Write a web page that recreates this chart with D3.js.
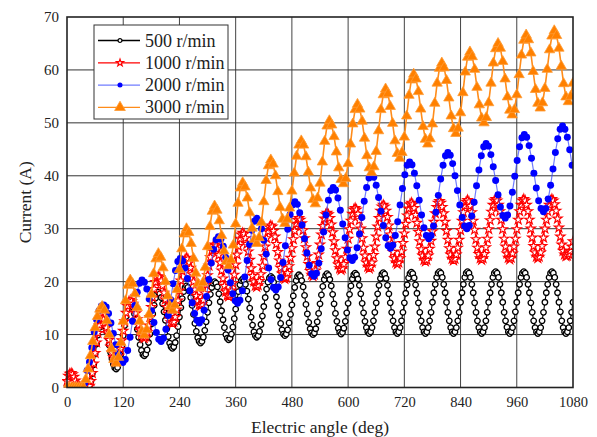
<!DOCTYPE html>
<html>
<head>
<meta charset="utf-8">
<script src="https://cdn.jsdelivr.net/npm/d3@7"></script>
<style>
  body { margin: 0; background: #fff; }
  text { font-family: "Liberation Serif", "Times New Roman", serif; fill: #222; }
</style>
</head>
<body>
<div id="chart"></div>
<script>
// axis ticks
const xTicks = [0, 120, 240, 360, 480, 600, 720, 840, 960, 1080];
const yTicks = [0, 10, 20, 30, 40, 50, 60, 70];

const seriesNames = ["500 r/min", "1000 r/min", "2000 r/min", "3000 r/min"];

// sampling of the electric angle (deg) for each curve
const angleStart500 = 0, angleStep500 = 3;
const angleStart1000 = 0, angleStep1000 = 3;
const angleStart2000 = 2, angleStep2000 = 5.1;
const angleStart3000 = 0, angleStep3000 = 5;

// current (A)
const current500 = [
  0, 0, 0, 0, 0, 0, 0, 0, 0, 0, 0, 0, 0, 0, 0, 0,
  0.3, 1.2, 2.6, 4.3, 6.3, 8.2, 9.9, 11.3, 12.2, 12.5,
  12.3, 11.6, 10.6, 9.4, 8.0, 6.6, 5.4, 4.4, 3.7, 3.5,
  3.8, 4.7, 6.1, 7.8, 9.8, 11.7, 13.4, 14.8, 15.7, 16.0,
  15.8, 15.1, 13.9, 12.6, 11.0, 9.5, 8.1, 7.0, 6.2, 6.0,
  6.3, 7.1, 8.5, 10.1, 12.0, 13.9, 15.5, 16.9, 17.7, 18.0,
  17.7, 17.0, 15.8, 14.3, 12.7, 11.1, 9.6, 8.4, 7.7, 7.4,
  7.7, 8.5, 9.8, 11.5, 13.3, 15.1, 16.8, 18.1, 18.9, 19.2,
  18.9, 18.2, 17.0, 15.5, 13.8, 12.1, 10.6, 9.4, 8.7, 8.4,
  8.7, 9.5, 10.8, 12.4, 14.2, 16.0, 17.6, 18.9, 19.7, 20.0,
  19.7, 19.0, 17.7, 16.2, 14.5, 12.8, 11.3, 10.0, 9.3, 9.0,
  9.3, 10.1, 11.4, 13.0, 14.8, 16.5, 18.1, 19.4, 20.2, 20.5,
  20.2, 19.5, 18.2, 16.7, 15.0, 13.3, 11.8, 10.5, 9.8, 9.5,
  9.8, 10.6, 11.9, 13.5, 15.3, 17.0, 18.6, 19.9, 20.7, 21.0,
  20.7, 19.9, 18.7, 17.1, 15.4, 13.7, 12.1, 10.9, 10.1, 9.8,
  10.1, 10.9, 12.2, 13.8, 15.6, 17.3, 18.9, 20.2, 21.0, 21.3,
  21.0, 20.2, 19.0, 17.4, 15.7, 13.9, 12.3, 11.1, 10.3, 10.0,
  10.3, 11.1, 12.4, 14.0, 15.8, 17.5, 19.1, 20.4, 21.2, 21.5,
  21.2, 20.4, 19.2, 17.6, 15.8, 14.0, 12.5, 11.2, 10.4, 10.1,
  10.4, 11.2, 12.5, 14.1, 15.9, 17.6, 19.2, 20.5, 21.3, 21.6,
  21.3, 20.5, 19.3, 17.7, 15.9, 14.1, 12.5, 11.3, 10.5, 10.2,
  10.5, 11.3, 12.6, 14.2, 16.0, 17.7, 19.3, 20.6, 21.4, 21.7,
  21.4, 20.6, 19.3, 17.7, 16.0, 14.2, 12.6, 11.3, 10.5, 10.2,
  10.5, 11.3, 12.6, 14.2, 16.0, 17.8, 19.4, 20.7, 21.5, 21.8,
  21.5, 20.7, 19.4, 17.8, 16.0, 14.2, 12.6, 11.3, 10.5, 10.2,
  10.5, 11.3, 12.6, 14.2, 16.1, 17.9, 19.5, 20.8, 21.6, 21.9,
  21.6, 20.8, 19.5, 17.9, 16.1, 14.2, 12.6, 11.3, 10.5, 10.2,
  10.5, 11.3, 12.6, 14.2, 16.1, 17.9, 19.5, 20.8, 21.6, 21.9,
  21.6, 20.8, 19.5, 17.9, 16.0, 14.2, 12.6, 11.3, 10.5, 10.2,
  10.5, 11.3, 12.6, 14.2, 16.1, 17.9, 19.5, 20.8, 21.6, 21.9,
  21.6, 20.8, 19.5, 17.9, 16.1, 14.2, 12.6, 11.4, 10.5, 10.2,
  10.5, 11.3, 12.6, 14.3, 16.1, 17.9, 19.5, 20.8, 21.6, 21.9,
  21.6, 20.8, 19.5, 17.9, 16.0, 14.2, 12.6, 11.3, 10.5, 10.2,
  10.5, 11.3, 12.6, 14.2, 16.1, 17.9, 19.5, 20.8, 21.6, 21.9,
  21.6, 20.8, 19.5, 17.9, 16.1, 14.3, 12.6, 11.3, 10.5, 10.2,
  10.5, 11.3, 12.6, 14.2, 16.1
];

const current1000 = [
  1.2, 2.2, 2.6, 2.7, 2.5, 2.0, 1.3, 0.7, 0.3, 0.1,
  0, 0, 0, 0, 0, 0,
  0.3, 1.2, 2.7, 4.5, 6.5, 8.5, 10.3, 11.8, 12.7, 13.0,
  12.8, 12.2, 11.3, 10.2, 9.0, 7.7, 6.6, 5.7, 5.1, 4.9,
  5.2, 6.0, 7.3, 8.9, 10.7, 12.5, 14.1, 15.4, 16.2, 16.5,
  16.3, 15.8, 15.0, 14.0, 12.9, 11.8, 10.8, 10.0, 9.5, 9.3,
  9.6, 10.4, 11.7, 13.3, 15.2, 17.0, 18.6, 19.9, 20.7, 21.0,
  20.8, 20.2, 19.2, 17.9, 16.6, 15.2, 13.9, 13.0, 12.3, 12.1,
  12.4, 13.3, 14.7, 16.4, 18.3, 20.2, 22.0, 23.3, 24.2, 24.5,
  24.3, 23.6, 22.6, 21.4, 20.0, 18.5, 17.3, 16.3, 15.6, 15.4,
  15.7, 16.5, 17.8, 19.4, 21.2, 23.0, 24.6, 25.9, 26.7, 27.0,
  26.8, 26.1, 25.0, 23.6, 22.1, 20.6, 19.2, 18.1, 17.4, 17.2,
  17.5, 18.3, 19.7, 21.3, 23.2, 25.1, 26.7, 28.1, 28.9, 29.2,
  29.0, 28.2, 27.1, 25.7, 24.1, 22.5, 21.1, 20.0, 19.2, 19.0,
  19.3, 20.1, 21.4, 23.0, 24.8, 26.6, 28.2, 29.5, 30.3, 30.6,
  30.4, 29.6, 28.5, 27.1, 25.6, 24.0, 22.6, 21.5, 20.7, 20.5,
  20.8, 21.6, 22.9, 24.5, 26.3, 28.0, 29.6, 30.9, 31.7, 32.0,
  31.7, 31.0, 29.7, 28.2, 26.5, 24.8, 23.3, 22.0, 21.3, 21.0,
  21.3, 22.1, 23.5, 25.1, 27.0, 28.9, 30.5, 31.9, 32.7, 33.0,
  32.7, 32.0, 30.8, 29.3, 27.6, 25.9, 24.4, 23.2, 22.5, 22.2,
  22.5, 23.3, 24.6, 26.2, 28.1, 29.9, 31.5, 32.8, 33.6, 33.9,
  33.6, 32.8, 31.6, 30.0, 28.2, 26.4, 24.9, 23.6, 22.8, 22.5,
  22.8, 23.6, 25.0, 26.6, 28.5, 30.4, 32.0, 33.4, 34.2, 34.5,
  34.2, 33.4, 32.2, 30.6, 28.9, 27.2, 25.6, 24.4, 23.6, 23.3,
  23.6, 24.4, 25.7, 27.3, 29.1, 30.9, 32.5, 33.8, 34.6, 34.9,
  34.6, 33.9, 32.6, 31.1, 29.4, 27.6, 26.1, 24.9, 24.1, 23.8,
  24.1, 24.9, 26.2, 27.7, 29.5, 31.3, 32.9, 34.1, 34.9, 35.2,
  34.9, 34.1, 32.9, 31.3, 29.6, 27.9, 26.3, 25.1, 24.3, 24.0,
  24.3, 25.1, 26.4, 27.9, 29.7, 31.5, 33.1, 34.3, 35.1, 35.4,
  35.1, 34.3, 33.1, 31.5, 29.8, 28.0, 26.4, 25.2, 24.4, 24.1,
  24.4, 25.2, 26.5, 28.1, 29.9, 31.6, 33.2, 34.5, 35.3, 35.6,
  35.3, 34.5, 33.3, 31.7, 29.9, 28.1, 26.6, 25.3, 24.5, 24.2,
  24.5, 25.3, 26.6, 28.1, 29.9, 31.7, 33.3, 34.5, 35.3, 35.6,
  35.3, 34.5, 33.3, 31.7, 30.0, 28.3, 26.7, 25.5, 24.7, 24.4,
  24.7, 25.5, 26.7, 28.3, 30.0, 31.7, 33.3, 34.5, 35.3, 35.6,
  35.3, 34.6, 33.4, 31.9, 30.2, 28.5, 27.0, 25.8, 25.1, 24.8,
  24.9, 25.2, 25.8, 26.6, 27.6
];

const current2000 = [
  0, 0, 0, 0, 0, 0, 0,
  0.8, 3.2, 4.8, 7.5, 10.5, 12.8, 14.5, 15.4, 15.6,
  15.2, 14.0, 12.2, 10.2, 8.1, 6.3, 5.1, 4.7,
  5.3, 7.0, 9.5, 12.5, 15.5, 18.0, 19.7, 20.3,
  19.9, 18.6, 16.7, 14.5, 12.3, 10.4, 9.1, 8.7,
  9.3, 11.0, 13.6, 16.6, 19.6, 22.1, 23.8, 24.4,
  23.9, 22.6, 20.6, 18.3, 16.0, 14.0, 12.7, 12.2,
  12.8, 14.6, 17.2, 20.4, 23.5, 26.1, 27.9, 28.5,
  28.0, 26.7, 24.6, 22.2, 19.8, 17.7, 16.4, 15.9,
  16.5, 18.3, 20.9, 24.0, 27.0, 29.7, 31.4, 32.0,
  31.5, 30.0, 27.8, 25.2, 22.6, 20.4, 18.9, 18.4,
  19.0, 20.8, 23.6, 26.8, 29.9, 32.7, 34.5, 35.1,
  34.6, 33.0, 30.7, 28.1, 25.4, 23.1, 21.5, 21.0,
  21.6, 23.5, 26.2, 29.4, 32.6, 35.4, 37.2, 37.8,
  37.3, 35.8, 33.5, 30.9, 28.3, 26.0, 24.5, 24.0,
  24.6, 26.4, 29.0, 32.1, 35.2, 37.8, 39.6, 40.2,
  39.7, 38.2, 35.9, 33.3, 30.6, 28.3, 26.8, 26.3,
  26.9, 28.7, 31.3, 34.5, 37.6, 40.2, 42.0, 42.6,
  42.1, 40.5, 38.1, 35.4, 32.6, 30.2, 28.7, 28.1,
  28.7, 30.5, 33.1, 36.3, 39.4, 42.0, 43.8, 44.4,
  43.9, 42.3, 40.0, 37.2, 34.5, 32.1, 30.5, 30.0,
  30.6, 32.4, 35.0, 38.1, 41.1, 43.8, 45.5, 46.1,
  45.6, 44.0, 41.7, 39.1, 36.4, 34.1, 32.5, 32.0,
  32.6, 34.3, 36.9, 39.9, 42.9, 45.5, 47.2, 47.8,
  47.3, 45.7, 43.3, 40.5, 37.7, 35.3, 33.8, 33.2,
  33.8, 35.6, 38.2, 41.3, 44.4, 47.0, 48.8, 49.4,
  48.8, 47.3, 44.9, 42.0
];

const current3000 = [
  0, 0, 0, 0, 0, 0, 0, 0,
  1.5, 3.5, 6.0, 8.7, 11.3, 13.4, 14.8, 15.3,
  14.6, 12.6, 10.0, 7.3, 5.3, 4.6,
  5.7, 8.5, 12.5, 16.4, 19.3, 20.3,
  19.6, 17.7, 15.1, 12.5, 10.6, 9.9,
  10.9, 13.8, 17.6, 21.5, 24.3, 25.3,
  24.6, 22.6, 20.0, 17.3, 15.3, 14.6,
  15.6, 18.5, 22.3, 26.2, 29.0, 30.0,
  29.3, 27.2, 24.4, 21.6, 19.6, 18.8,
  19.8, 22.7, 26.6, 30.4, 33.3, 34.3,
  33.5, 31.5, 28.7, 25.8, 23.8, 23.0,
  24.1, 26.9, 30.9, 34.8, 37.7, 38.7,
  37.9, 35.8, 33.0, 30.1, 28.0, 27.2,
  28.3, 31.2, 35.1, 39.1, 41.9, 43.0,
  42.2, 40.0, 37.0, 34.0, 31.8, 31.0,
  31.8, 33.9, 37.1, 40.5, 43.7, 45.8, 46.6,
  45.8, 43.6, 40.7, 37.7, 35.5, 34.7,
  35.8, 38.6, 42.6, 46.5, 49.4, 50.4,
  49.6, 47.4, 44.5, 41.5, 39.3, 38.5,
  39.5, 42.3, 46.0, 49.8, 52.5, 53.5,
  52.6, 50.3, 47.1, 43.8, 41.5, 40.6,
  41.7, 44.6, 48.5, 52.5, 55.3, 56.4,
  55.5, 53.1, 49.9, 46.6, 44.2, 43.3,
  44.4, 47.3, 51.3, 55.2, 58.1, 59.2,
  58.3, 55.9, 52.6, 49.3, 46.9, 46.0,
  47.0, 49.8, 53.7, 57.5, 60.3, 61.3,
  60.4, 58.0, 54.7, 51.3, 48.9, 48.0,
  49.0, 51.9, 55.7, 59.6, 62.4, 63.4,
  62.5, 60.1, 56.7, 53.4, 50.9, 50.0,
  51.0, 53.8, 57.5, 61.3, 64.0, 65.0,
  64.1, 61.6, 58.3, 54.9, 52.4, 51.5,
  52.5, 55.3, 59.1, 62.8, 65.6, 66.6,
  65.7, 63.2, 59.7, 56.3, 53.7, 52.8,
  53.8, 56.5, 60.1, 63.8, 66.4, 67.4,
  66.5, 64.1, 60.7, 57.4, 54.9, 54.0,
  55.0, 57.5
];

const width = 597, height = 437;
const margin = { top: 17, right: 24, bottom: 49.5, left: 67 };
const plotW = width - margin.left - margin.right;
const plotH = height - margin.top - margin.bottom;

const svg = d3.select("#chart").append("svg")
  .attr("width", width)
  .attr("height", height);

svg.append("rect").attr("width", width).attr("height", height).attr("fill", "#fff");

const g = svg.append("g").attr("transform", `translate(${margin.left},${margin.top})`);

const x = d3.scaleLinear().domain([0, 1080]).range([0, plotW]);
const y = d3.scaleLinear().domain([0, 70]).range([plotH, 0]);

// grid
g.append("g").selectAll("line").data(xTicks.slice(1, -1)).join("line")
  .attr("x1", d => x(d)).attr("x2", d => x(d))
  .attr("y1", 0).attr("y2", plotH)
  .attr("stroke", "#444").attr("stroke-width", 1);
g.append("g").selectAll("line").data(yTicks.slice(1, -1)).join("line")
  .attr("x1", 0).attr("x2", plotW)
  .attr("y1", d => y(d)).attr("y2", d => y(d))
  .attr("stroke", "#333").attr("stroke-width", 1);

// axes (labels only, the frame is drawn below)
const xAxis = g.append("g")
  .attr("transform", `translate(0,${plotH})`)
  .call(d3.axisBottom(x).tickValues(xTicks).tickFormat(d3.format("d")).tickSize(0).tickPadding(9));
const yAxis = g.append("g")
  .call(d3.axisLeft(y).tickValues(yTicks).tickFormat(d3.format("d")).tickSize(0).tickPadding(8));
[xAxis, yAxis].forEach(a => {
  a.select(".domain").remove();
  a.selectAll("text").attr("fill", "#222");
});
xAxis.selectAll("text").attr("font-size", 14.5);
yAxis.selectAll("text").attr("font-size", 15);

// series
function makeSeries(values, start, step) {
  return values.map((v, i) => ({ angle: start + i * step, value: v }));
}

const series = [
  { name: seriesNames[0], data: makeSeries(current500, angleStart500, angleStep500),
    line: "#000", lineOpacity: 1, lw: 1.1, symbol: d3.symbolCircle, size: 24, legendSize: 12,
    fill: "#fff", stroke: "#000", sw: 1.3 },
  { name: seriesNames[1], data: makeSeries(current1000, angleStart1000, angleStep1000),
    line: "#ff0000", lineOpacity: 1, lw: 1, symbol: d3.symbolStar, size: 27, legendSize: 16,
    fill: "#fff", stroke: "#ff0000", sw: 1.15 },
  { name: seriesNames[2], data: makeSeries(current2000, angleStart2000, angleStep2000),
    line: "#3344ff", lineOpacity: 0.7, lw: 1.2, symbol: d3.symbolCircle, size: 38, legendSize: 20,
    fill: "#0000ff", stroke: "none", sw: 0 },
  { name: seriesNames[3], data: makeSeries(current3000, angleStart3000, angleStep3000),
    line: "#ff8c1a", lineOpacity: 1, lw: 1.6, symbol: d3.symbolTriangle, size: 46, legendSize: 50,
    fill: "#ff8000", stroke: "#ff9a33", sw: 0.8 }
];

svg.append("clipPath").attr("id", "plotclip")
  .append("rect").attr("x", -5).attr("y", -5).attr("width", plotW + 5).attr("height", plotH + 5);

const lineGen = d3.line().x(d => x(d.angle)).y(d => y(d.value));

const plot = g.append("g").attr("clip-path", "url(#plotclip)");
series.forEach(s => {
  const sg = plot.append("g");
  sg.append("path")
    .datum(s.data)
    .attr("d", lineGen)
    .attr("fill", "none")
    .attr("stroke", s.line)
    .attr("stroke-opacity", s.lineOpacity)
    .attr("stroke-width", s.lw);
  sg.selectAll("path.mark").data(s.data).join("path")
    .attr("class", "mark")
    .attr("transform", d => `translate(${x(d.angle)},${y(d.value)})`)
    .attr("d", d3.symbol(s.symbol, s.size))
    .attr("fill", s.fill)
    .attr("stroke", s.stroke)
    .attr("stroke-width", s.sw);
});

// frame
g.append("rect")
  .attr("width", plotW).attr("height", plotH)
  .attr("fill", "none").attr("stroke", "#222").attr("stroke-width", 1.6);

// axis titles
svg.append("text")
  .attr("x", margin.left + plotW / 2).attr("y", 433)
  .attr("text-anchor", "middle").attr("font-size", 17.5)
  .text("Electric angle (deg)");
svg.append("text")
  .attr("transform", `translate(31,${margin.top + plotH / 2}) rotate(-90)`)
  .attr("text-anchor", "middle").attr("font-size", 17.5)
  .text("Current (A)");

// legend
const legend = svg.append("g").attr("transform", "translate(94,25)");
legend.append("rect")
  .attr("width", 134).attr("height", 94)
  .attr("fill", "#fff").attr("stroke", "#333").attr("stroke-width", 1);
series.forEach((s, i) => {
  const row = legend.append("g").attr("transform", `translate(0,${15.5 + i * 22.3})`);
  row.append("line")
    .attr("x1", 4).attr("x2", 46).attr("y1", 0).attr("y2", 0)
    .attr("stroke", s.line).attr("stroke-opacity", s.lineOpacity).attr("stroke-width", 1.3);
  row.append("path")
    .attr("transform", "translate(26,0)")
    .attr("d", d3.symbol(s.symbol, s.legendSize))
    .attr("fill", s.fill).attr("stroke", s.stroke).attr("stroke-width", s.sw);
  row.append("text")
    .attr("x", 51).attr("y", 6)
    .attr("font-size", 18)
    .text(s.name);
});
</script>
</body>
</html>
